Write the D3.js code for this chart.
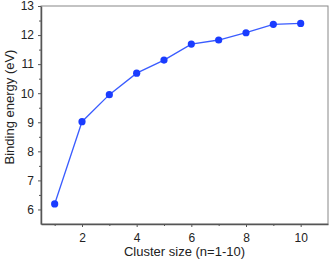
<!DOCTYPE html>
<html>
<head>
<meta charset="utf-8">
<script src="https://cdn.jsdelivr.net/npm/d3@7"></script>
<style>
  body { margin: 0; background: #fff; }
  text { font-family: "Liberation Sans", Arial, sans-serif; }
</style>
</head>
<body>
<div id="vis"></div>
<script>
// datos
const clusterSize = [1, 2, 3, 4, 5, 6, 7, 8, 9, 10];
const bindingEnergy = [6.19, 9.02, 9.95, 10.69, 11.14, 11.69, 11.83, 12.08, 12.37, 12.40];
const xTicks = [2, 4, 6, 8, 10];
const yTicks = [6, 7, 8, 9, 10, 11, 12, 13];

const WIDTH = 331;
const HEIGHT = 262;
const margins = [41, 3, 6, 38]; // izquierda, derecha, arriba, abajo

const SVG = d3.select("#vis").append("svg")
    .attr("width", WIDTH)
    .attr("height", HEIGHT);

const x = d3.scaleLinear()
    .domain([0.5, 11])
    .range([margins[0], WIDTH - margins[1]]);

const y = d3.scaleLinear()
    .domain([5.5, 13])
    .range([HEIGHT - margins[3], margins[2]]);

const axisColor = "#555";

// marco
SVG.append("rect")
    .attr("x", x(0.5))
    .attr("y", y(13))
    .attr("width", x(11) - x(0.5))
    .attr("height", y(5.5) - y(13))
    .attr("fill", "none")
    .attr("stroke", "#888")
    .attr("stroke-width", 1);

// eje X
const ejeX = SVG.append("g")
    .attr("transform", `translate(0,${y(5.5)})`)
    .call(d3.axisBottom(x).tickValues(xTicks).tickSize(3).tickPadding(6).tickSizeOuter(0));
// ticks menores
SVG.append("g")
    .attr("transform", `translate(0,${y(5.5)})`)
    .call(d3.axisBottom(x).tickValues([1, 3, 5, 7, 9]).tickSize(2).tickFormat("").tickSizeOuter(0))
    .select(".domain").remove();

// eje Y
const ejeY = SVG.append("g")
    .attr("transform", `translate(${x(0.5)},0)`)
    .call(d3.axisLeft(y).tickValues(yTicks).tickSize(3).tickPadding(4).tickSizeOuter(0));
SVG.append("g")
    .attr("transform", `translate(${x(0.5)},0)`)
    .call(d3.axisLeft(y).tickValues([6.5, 7.5, 8.5, 9.5, 10.5, 11.5, 12.5]).tickSize(2).tickFormat("").tickSizeOuter(0))
    .select(".domain").remove();

SVG.selectAll(".domain").attr("stroke", axisColor).attr("stroke-width", 1.5);
SVG.selectAll(".tick line").attr("stroke", axisColor).attr("stroke-width", 1);
SVG.selectAll(".tick text")
    .attr("font-size", 12)
    .attr("fill", "#222")
    .attr("font-family", "Liberation Sans, Arial, sans-serif");

// titulos
SVG.append("text")
    .attr("x", (x(0.5) + x(11)) / 2)
    .attr("y", 256)
    .attr("text-anchor", "middle")
    .attr("font-size", 13)
    .attr("fill", "#222")
    .text("Cluster size (n=1-10)");

SVG.append("text")
    .attr("transform", `translate(14,${(y(5.5) + y(13)) / 2 - 8}) rotate(-90)`)
    .attr("text-anchor", "middle")
    .attr("font-size", 13)
    .attr("fill", "#222")
    .text("Binding energy (eV)");

// linea y puntos
const datos = clusterSize.map((n, i) => ({ n: n, e: bindingEnergy[i] }));

SVG.append("path")
    .datum(datos)
    .attr("fill", "none")
    .attr("stroke", "#3a5cff")
    .attr("stroke-width", 1.3)
    .attr("d", d3.line().x(d => x(d.n)).y(d => y(d.e)));

SVG.append("g")
    .selectAll("circle")
    .data(datos)
    .join("circle")
    .attr("cx", d => x(d.n))
    .attr("cy", d => y(d.e))
    .attr("r", 3.6)
    .attr("fill", "#1a3cff");
</script>
</body>
</html>
